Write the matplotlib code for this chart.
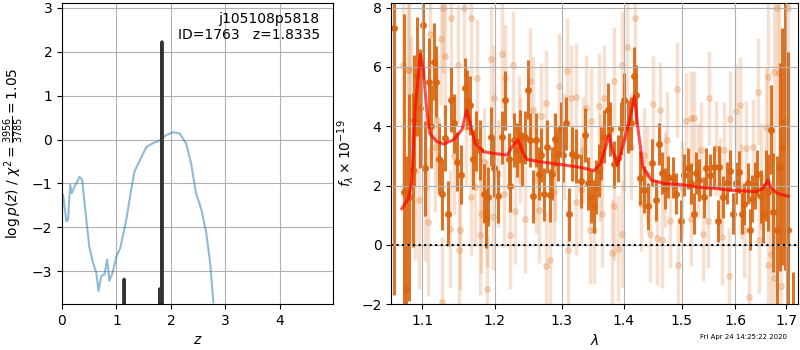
# Ajuste de redshift: p(z) a la izquierda y espectro con modelo a la derecha.
import matplotlib
matplotlib.use("Agg")
import matplotlib.pyplot as plt
from matplotlib.ticker import FixedLocator, NullLocator, ScalarFormatter

# 1. Datos.
# p(z)
z_pz = [0.02, 0.08, 0.11, 0.15, 0.18, 0.23, 0.28, 0.32, 0.37, 0.42, 0.50, 0.57, 0.63,
        0.67, 0.72, 0.78, 0.83, 0.87, 0.93, 1.00, 1.07, 1.18, 1.27, 1.33, 1.43, 1.55,
        1.67, 1.79, 1.91, 2.04, 2.16, 2.28, 2.37, 2.46, 2.56, 2.65, 2.72, 2.78]
logpz = [-1.26, -1.86, -1.83, -1.03, -1.22, -1.07, -0.96, -0.85, -0.92, -1.52, -2.43,
         -2.81, -3.03, -3.45, -3.11, -3.07, -2.73, -3.22, -3.03, -2.66, -2.47, -1.83,
         -1.15, -0.73, -0.47, -0.17, -0.08, -0.02, 0.10, 0.17, 0.14, -0.09, -0.54,
         -1.22, -1.60, -2.13, -2.81, -3.71]
# picos de la rejilla fina
z_fine = [1.12, 1.14, 1.16, 1.785, 1.795, 1.805, 1.825, 1.835, 1.845]
logp_fine = [-6.0, -3.18, -6.0, -6.0, -3.40, -6.0, -6.0, 2.23, -6.0]

# espectro binneado (puntos oscuros)
lam_bin = [1.063, 1.0761, 1.0791, 1.0830, 1.0878, 1.0895, 1.0934, 1.0974, 1.1017, 1.1039,
           1.1089, 1.1119, 1.1160, 1.1186, 1.1226, 1.1263, 1.1308, 1.1344, 1.1380, 1.1426,
           1.1462, 1.1526, 1.1572, 1.1610, 1.1642, 1.1690, 1.1736, 1.1793, 1.1840, 1.1878,
           1.1906, 1.1950, 1.1993, 1.2040, 1.2104, 1.2152, 1.2200, 1.2225, 1.2283, 1.2323,
           1.2362, 1.2402, 1.2436, 1.2481, 1.2511, 1.2556, 1.2597, 1.2653, 1.2683, 1.2723,
           1.2775, 1.2815, 1.2852, 1.2893, 1.2945, 1.2981, 1.3023, 1.3064, 1.3111, 1.3164,
           1.3217, 1.3296, 1.3365, 1.3420, 1.3457, 1.3510, 1.3538, 1.3587, 1.3620, 1.3674,
           1.3740, 1.3773, 1.3829, 1.3896, 1.3951, 1.4006, 1.4063, 1.4119, 1.4175, 1.4200,
           1.4277, 1.4346, 1.4415, 1.4474, 1.4549, 1.4607, 1.4649, 1.4707, 1.4755, 1.4844,
           1.4903, 1.4993, 1.5052, 1.5114, 1.5173, 1.5233, 1.5264, 1.5324, 1.5405, 1.5447,
           1.5526, 1.5601, 1.5664, 1.5694, 1.5757, 1.5838, 1.5894, 1.5945, 1.6008, 1.6071,
           1.6117, 1.6167, 1.6232, 1.6282, 1.6328, 1.6373, 1.6425, 1.6489, 1.6541, 1.6587,
           1.6632, 1.6685, 1.6739, 1.6805, 1.6872, 1.6913, 1.6974, 1.7030, 1.7140]
flux_bin = [7.30, 1.78, -1.50, 1.60, 2.52, 4.20, 5.68, 4.60, 7.40, 2.58,
            5.48, 4.00, 6.17, 5.50, 2.90, 1.70, 3.60, 1.05, 4.90, 4.10,
            2.80, 2.37, 5.30, 4.90, 4.70, 2.88, 3.50, 3.20, 1.73, 0.88,
            1.62, 3.65, 2.60, 1.64, 3.63, 4.87, 2.88, 2.00, 3.54, 3.20,
            3.65, 2.90, 3.63, 5.23, 3.54, 1.64, 3.54, 2.40, 3.03, 1.70,
            3.31, 1.67, 2.40, 3.56, 3.05, 3.93, 3.03, 4.10, 1.03, 3.06,
            3.00, 2.15, 3.70, 2.07, 1.62, 1.30, 1.95, 2.50, 3.08, 3.65,
            4.55, 3.90, 2.71, 2.92, 3.93, 4.90, 3.99, 4.10, 5.68, 5.06,
            2.26, 1.86, 1.30, 2.77, 1.50, 3.40, 2.43, 1.90, 2.29, 2.27,
            1.73, 0.80, 2.35, 2.58, 2.07, 1.05, 2.43, 2.18, 1.60, 2.58,
            2.36, 2.63, 0.80, 2.63, 1.62, 2.09, 2.50, 1.05, 2.09, 2.46,
            1.05, 1.37, 2.07, 0.51, 1.56, 2.00, 2.40, 1.64, 1.05, 2.00,
            1.78, 3.88, 1.10, 0.49, 2.63, 3.31, 4.16, 0.50, -3.00]
err_bin = [9.0, 6.0, 4.5, 3.5, 2.6, 2.2, 2.0, 2.0, 1.8, 1.6,
           1.5, 1.4, 1.3, 1.2, 1.2, 1.2, 1.1, 1.1, 1.1, 1.0,
           1.0, 1.0, 1.0, 1.0, 1.0, 1.0, 1.0, 1.0, 1.0, 1.0,
           1.0, 1.0, 1.0, 0.9, 0.9, 1.0, 0.9, 0.9, 0.9, 0.9,
           0.9, 0.9, 0.9, 1.0, 0.9, 0.9, 0.9, 0.9, 0.9, 0.9,
           0.9, 0.9, 0.9, 0.9, 0.9, 0.9, 0.9, 0.9, 0.9, 0.9,
           0.9, 0.9, 0.9, 0.9, 0.9, 0.9, 0.9, 0.9, 0.9, 0.9,
           0.9, 0.9, 0.8, 0.8, 0.9, 0.9, 0.9, 0.9, 1.0, 1.0,
           0.9, 0.8, 0.8, 0.8, 0.7, 0.7, 0.7, 0.7, 0.7, 0.7,
           0.7, 0.7, 0.7, 0.7, 0.7, 0.7, 0.7, 0.7, 0.7, 0.7,
           0.7, 0.7, 0.7, 0.7, 0.7, 0.7, 0.7, 0.7, 0.7, 0.7,
           0.7, 0.7, 0.7, 0.7, 0.8, 0.8, 0.8, 0.9, 1.0, 1.2,
           1.3, 1.5, 2.0, 2.5, 3.5, 4.0, 5.0, 6.0, 2.1]

# espectro sin binnear (puntos claros)
lam_raw = [1.0748, 1.0813, 1.0834, 1.0856, 1.0900, 1.0952, 1.1031, 1.1076, 1.1097, 1.1164,
           1.1200, 1.1245, 1.1267, 1.1276, 1.1308, 1.1366, 1.1380, 1.1420, 1.1481, 1.1490,
           1.1503, 1.1563, 1.1596, 1.1655, 1.1666, 1.1712, 1.1740, 1.1782, 1.1807, 1.1850,
           1.1882, 1.1893, 1.1950, 1.1974, 1.1993, 1.2050, 1.2104, 1.2127, 1.2152, 1.2225,
           1.2264, 1.2298, 1.2350, 1.2372, 1.2436, 1.2511, 1.2562, 1.2600, 1.2647, 1.2673,
           1.2749, 1.2757, 1.2815, 1.2877, 1.2900, 1.2954, 1.3032, 1.3075, 1.3095, 1.3138,
           1.3217, 1.3225, 1.3296, 1.3330, 1.3376, 1.3445, 1.3457, 1.3510, 1.3591, 1.3600,
           1.3647, 1.3674, 1.3796, 1.3829, 1.3834, 1.3896, 1.3963, 1.3968, 1.4000, 1.4051,
           1.4119, 1.4187, 1.4289, 1.4346, 1.4400, 1.4450, 1.4491, 1.4566, 1.4624, 1.4649,
           1.4700, 1.4742, 1.4800, 1.4920, 1.4944, 1.5000, 1.5083, 1.5162, 1.5173, 1.5222,
           1.5300, 1.5356, 1.5387, 1.5480, 1.5492, 1.5634, 1.5700, 1.5741, 1.5790, 1.5885,
           1.5904, 1.6013, 1.6096, 1.6100, 1.6161, 1.6205, 1.6268, 1.6334, 1.6432, 1.6463,
           1.6500, 1.6594, 1.6627, 1.6639, 1.6692, 1.6746, 1.6752, 1.6812, 1.6859, 1.6893,
           1.7029]
flux_raw = [6.08, 5.90, 5.88, 3.54, 2.50, 1.50, 1.95, 0.77, 7.12, 3.31,
            4.20, 6.93, -1.94, 8.00, 6.38, 0.54, 7.66, 3.00, 6.08, -0.19,
            0.49, 8.00, 3.99, 7.66, 1.62, 1.95, 5.63, 0.32, 1.05, 2.80,
            1.05, -1.49, 6.27, 0.94, 4.95, 2.40, 6.42, 1.73, 5.63, 0.32,
            6.08, 1.14, 3.90, 3.20, 0.86, 5.51, 4.55, 2.20, 1.19, 4.33,
            4.78, -0.70, -0.51, 1.78, 2.60, 5.34, 3.31, 5.85, -0.19, 4.95,
            5.00, 1.45, 1.84, 3.20, 4.61, 0.49, 4.16, 0.49, 4.67, 2.60,
            1.05, 4.95, -0.27, 5.54, 1.30, -0.14, 6.08, 0.37, 3.60, 6.68,
            3.31, 7.66, 1.39, 3.03, 2.40, 0.35, 4.76, 0.24, 4.55, 0.15,
            2.20, 3.54, 0.82, 5.25, -0.67, 1.90, 4.19, 4.27, 0.88, 4.27,
            2.50, 3.20, 0.37, 0.82, 4.95, 3.25, 2.00, 0.26, 3.20, -1.04,
            4.25, 4.50, 4.72, 1.80, 0.49, 3.25, -1.75, 3.31, 5.16, 0.17,
            2.30, 3.97, -0.67, 5.66, -0.30, 5.82, -1.12, 8.00, 5.80, -1.38,
            7.97]
err_raw = [4.5, 4.0, 4.0, 3.5, 3.0, 3.0, 2.5, 2.5, 2.5, 2.2,
           2.2, 2.2, 2.2, 2.2, 2.0, 2.0, 2.0, 2.0, 2.0, 2.0,
           2.0, 2.0, 2.0, 2.0, 2.0, 2.0, 2.0, 2.0, 2.0, 1.8,
           1.8, 1.8, 1.8, 1.8, 1.8, 1.8, 1.8, 1.8, 1.8, 1.8,
           1.8, 1.8, 1.8, 1.8, 1.8, 1.8, 1.8, 1.8, 1.8, 1.8,
           1.8, 1.8, 1.8, 1.8, 1.8, 1.8, 1.8, 1.8, 1.8, 1.8,
           1.8, 1.8, 1.8, 1.8, 1.8, 1.8, 1.8, 1.8, 1.8, 1.8,
           1.8, 1.8, 1.8, 1.8, 1.8, 1.8, 1.8, 1.8, 1.8, 1.8,
           1.8, 1.8, 1.6, 1.6, 1.6, 1.6, 1.6, 1.6, 1.6, 1.6,
           1.6, 1.6, 1.6, 1.6, 1.6, 1.6, 1.6, 1.6, 1.6, 1.6,
           1.6, 1.6, 1.6, 1.6, 1.6, 1.6, 1.6, 1.6, 1.6, 1.6,
           1.6, 1.6, 1.6, 1.6, 1.6, 1.6, 1.6, 1.6, 1.8, 1.8,
           1.8, 2.0, 2.2, 2.5, 2.5, 3.0, 3.0, 4.0, 4.0, 4.5,
           5.0]

# modelo
lam_model = [1.0735, 1.0821, 1.0864, 1.0908, 1.0975, 1.1016, 1.1059, 1.1101, 1.1193, 1.1285,
             1.1418, 1.1535, 1.1604, 1.1650, 1.1720, 1.1840, 1.1983, 1.2176, 1.2250, 1.2338,
             1.2400, 1.2471, 1.2672, 1.2980, 1.3295, 1.3509, 1.3618, 1.3701, 1.3755, 1.3812,
             1.3895, 1.3979, 1.4092, 1.4177, 1.4235, 1.4323, 1.4467, 1.4692, 1.4990, 1.5293,
             1.5601, 1.5917, 1.6238, 1.6401, 1.6533, 1.6632, 1.6698, 1.6834, 1.7035]
flux_model = [1.22, 1.56, 2.18, 4.55, 6.42, 5.90, 4.55, 3.76, 3.48, 3.40,
              3.54, 3.88, 4.55, 4.10, 3.42, 3.14, 3.08, 3.03, 3.31, 3.54,
              3.14, 2.88, 2.80, 2.71, 2.61, 2.50, 2.75, 3.31, 3.71, 3.20,
              2.69, 3.31, 4.16, 5.00, 3.99, 2.63, 2.18, 2.07, 2.03, 1.95,
              1.90, 1.84, 1.81, 1.79, 1.90, 2.18, 1.90, 1.73, 1.64]

xticks_lam = [1.1, 1.2, 1.3, 1.4, 1.5, 1.6, 1.7]
naranja = "#d9650f"

# 2. Figura.
fig = plt.figure(figsize=(8, 3.5), dpi=100)
ax1 = fig.add_axes([0.0775, 0.131, 0.339, 0.86])
ax2 = fig.add_axes([0.489, 0.131, 0.509, 0.86])

# 2.1. Panel p(z).
ax1.plot(z_pz, logpz, color="#1f77b4", alpha=0.5, lw=1.5)
ax1.plot(z_fine, logp_fine, color="0.2", lw=2.2)
ax1.set_xlim(0, 4.98)
ax1.set_ylim(-3.75, 3.11)
ax1.set_xlabel("$z$")
ax1.set_ylabel(r"$\log p(z)$ / $\chi^2=\frac{3956}{3785}=1.05$")
ax1.text(0.95, 0.97, "j105108p5818\nID=1763   z=1.8335", transform=ax1.transAxes,
         ha="right", va="top", fontsize=10)
ax1.grid()

# 2.2. Panel espectro.
ax2.errorbar(lam_raw, flux_raw, yerr=err_raw, fmt="o", color=naranja, alpha=0.2,
             markersize=4, elinewidth=2.5, zorder=1)
ax2.errorbar(lam_bin, flux_bin, yerr=err_bin, fmt="o", color=naranja, alpha=0.9,
             markersize=4, elinewidth=2.2, zorder=2)
ax2.plot(lam_model, flux_model, color="r", alpha=0.7, lw=2.2, zorder=3)
ax2.axhline(0, color="k", linestyle=":", lw=1.5, zorder=4)
ax2.set_xscale("log")
ax2.set_xlim(1.06, 1.725)
ax2.set_ylim(-2, 8.15)
ax2.xaxis.set_major_locator(FixedLocator(xticks_lam))
ax2.xaxis.set_minor_locator(NullLocator())
ax2.xaxis.set_major_formatter(ScalarFormatter())
ax2.set_xlabel(r"$\lambda$")
ax2.set_ylabel(r"$f_\lambda\times10^{-19}$")
ax2.set_axisbelow(False)
ax2.grid(zorder=5)

fig.text(0.984, 0.028, "Fri Apr 24 14:25:22 2020", ha="right", va="bottom", fontsize=5)

plt.savefig("out.png", dpi=100)
plt.close()
